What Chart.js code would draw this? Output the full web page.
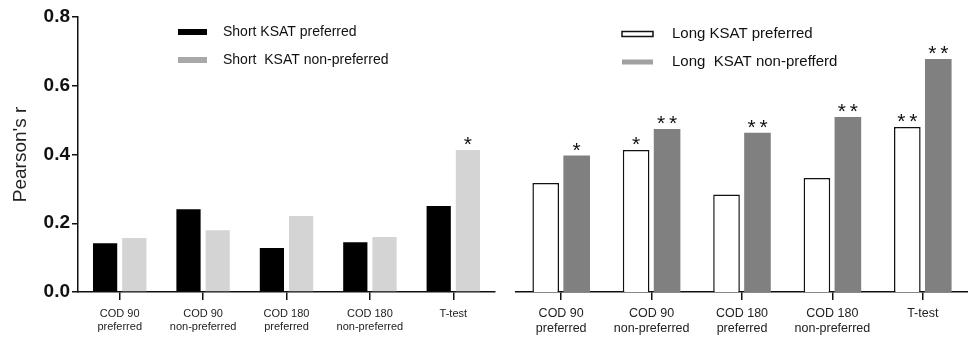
<!DOCTYPE html>
<html>
<head>
<meta charset="utf-8">
<script src="https://cdn.jsdelivr.net/npm/chart.js@4.4.1/dist/chart.umd.min.js"></script>
<style>
  html, body { margin: 0; padding: 0; background: #fff; }
  #wrap { position: relative; width: 968px; height: 339px; }
  #left { position: absolute; left: 0; top: 0; width: 505px; height: 339px; }
  #right { position: absolute; left: 505px; top: 0; width: 463px; height: 339px; }
</style>
</head>
<body>
<div id="wrap">
  <div id="left"><canvas id="shortChart"></canvas></div>
  <div id="right"><canvas id="longChart"></canvas></div>
</div>
<script>
const CATEGORIES = [
  ['COD 90', 'preferred'],
  ['COD 90', 'non-preferred'],
  ['COD 180', 'preferred'],
  ['COD 180', 'non-preferred'],
  'T-test',
];
const Y_TICKS = [0, 0.2, 0.4, 0.6, 0.8];

const SHORT_PREF = [0.142, 0.241, 0.128, 0.145, 0.25];
const SHORT_NONPREF = [0.157, 0.18, 0.221, 0.16, 0.413];
const LONG_PREF = [0.317, 0.413, 0.284, 0.332, 0.48];
const LONG_NONPREF = [0.397, 0.474, 0.463, 0.509, 0.678];

// significance marks drawn above each bar
const SHORT_PREF_SIG = ['', '', '', '', ''];
const SHORT_NONPREF_SIG = ['', '', '', '', '*'];
const LONG_PREF_SIG = ['', '*', '', '', '**'];
const LONG_NONPREF_SIG = ['*', '**', '**', '**', '**'];

const FONT = '"Liberation Sans", Arial, sans-serif';

const keyPlugin = {
  id: 'key',
  afterDraw(chart, args, opts) {
    const ctx = chart.ctx;
    ctx.save();
    ctx.font = opts.size + 'px ' + FONT;
    ctx.textBaseline = 'middle';
    chart.data.datasets.forEach((ds, i) => {
      const y = opts.y + i * opts.rowGap;
      ctx.fillStyle = ds.keyColor;
      ctx.fillRect(opts.x, y - opts.h / 2, opts.w, opts.h);
      if (ds.keyBorder) {
        ctx.strokeStyle = ds.keyBorder;
        ctx.lineWidth = 1.5;
        ctx.strokeRect(opts.x, y - opts.h / 2, opts.w, opts.h);
      }
      ctx.fillStyle = '#111';
      ctx.fillText(ds.label, opts.x + opts.textGap, y);
    });
    ctx.restore();
  }
};

const sigPlugin = {
  id: 'sig',
  afterDatasetsDraw(chart, args, opts) {
    const ctx = chart.ctx;
    ctx.save();
    ctx.font = opts.size + 'px ' + FONT;
    ctx.fillStyle = '#111';
    ctx.textAlign = 'center';
    ctx.textBaseline = 'alphabetic';
    chart.data.datasets.forEach((ds, i) => {
      const meta = chart.getDatasetMeta(i);
      meta.data.forEach((bar, j) => {
        const s = ds.sig[j];
        if (!s) return;
        for (let k = 0; k < s.length; k++) {
          ctx.fillText(s[k], bar.x + (k - (s.length - 1) / 2) * opts.spacing, bar.y + opts.dy);
        }
      });
    });
    ctx.restore();
  }
};

function buildChart(canvasId, datasets, cfg) {
  return new Chart(document.getElementById(canvasId), {
    type: 'bar',
    data: { labels: CATEGORIES, datasets },
    options: {
      responsive: true,
      maintainAspectRatio: false,
      animation: false,
      layout: { padding: cfg.padding },
      datasets: { bar: { categoryPercentage: cfg.catPct, barPercentage: cfg.barPct } },
      plugins: {
        legend: { display: false },
        tooltip: { enabled: false },
        key: cfg.key,
        sig: { size: 21, spacing: 12, dy: 1 },
      },
      scales: {
        x: {
          grid: { drawOnChartArea: false, offset: false, color: '#111', lineWidth: 1.5, tickLength: 8 },
          border: { color: '#111', width: 1.5 },
          ticks: { color: '#222', font: { family: FONT, size: cfg.xFont }, padding: cfg.xPad, maxRotation: 0, autoSkip: false },
          afterFit: s => { s.height = 47; },
        },
        y: {
          display: cfg.showY,
          min: 0,
          max: 0.8,
          afterBuildTicks: s => { s.ticks = Y_TICKS.map(v => ({ value: v })); },
          grid: { drawOnChartArea: false, color: '#111', lineWidth: 1.5, tickLength: 6 },
          border: { color: '#111', width: 1.5 },
          ticks: { color: '#111', font: { family: FONT, size: 19, weight: 'bold' }, padding: 2, callback: v => v.toFixed(1) },
          title: { display: true, text: "Pearson's r", color: '#222', font: { family: FONT, size: 19 }, padding: { top: 9, bottom: 0 } },
          afterFit: s => { s.width = cfg.showY ? 78 : 0; },
        }
      }
    },
    plugins: [keyPlugin, sigPlugin]
  });
}

buildChart('shortChart', [
  { label: 'Short KSAT preferred', data: SHORT_PREF, backgroundColor: '#000', borderWidth: 0, keyColor: '#000', sig: SHORT_PREF_SIG },
  { label: 'Short  KSAT non-preferred', data: SHORT_NONPREF, backgroundColor: '#d4d4d4', borderWidth: 0, keyColor: '#a8a8a8', sig: SHORT_NONPREF_SIG },
], {
  padding: { top: 17, right: 10, left: 0, bottom: 0 },
  catPct: 0.70, barPct: 0.83, xFont: 11, xPad: 7, showY: true,
  key: { x: 178, y: 32, rowGap: 28, w: 29, h: 6, textGap: 45, size: 14 },
});

buildChart('longChart', [
  { label: 'Long KSAT preferred', data: LONG_PREF, backgroundColor: '#fff', borderColor: '#111', borderWidth: 1.5, keyColor: '#fff', keyBorder: '#111', sig: LONG_PREF_SIG },
  { label: 'Long  KSAT non-prefferd', data: LONG_NONPREF, backgroundColor: '#808080', borderWidth: 0, keyColor: '#a0a0a0', sig: LONG_NONPREF_SIG },
], {
  padding: { top: 17, right: 0, left: 11, bottom: 0 },
  catPct: 0.685, barPct: 0.86, xFont: 12.5, xPad: 6, showY: false,
  key: { x: 117, y: 34, rowGap: 28, w: 31, h: 5, textGap: 50, size: 15 },
});
</script>
</body>
</html>
